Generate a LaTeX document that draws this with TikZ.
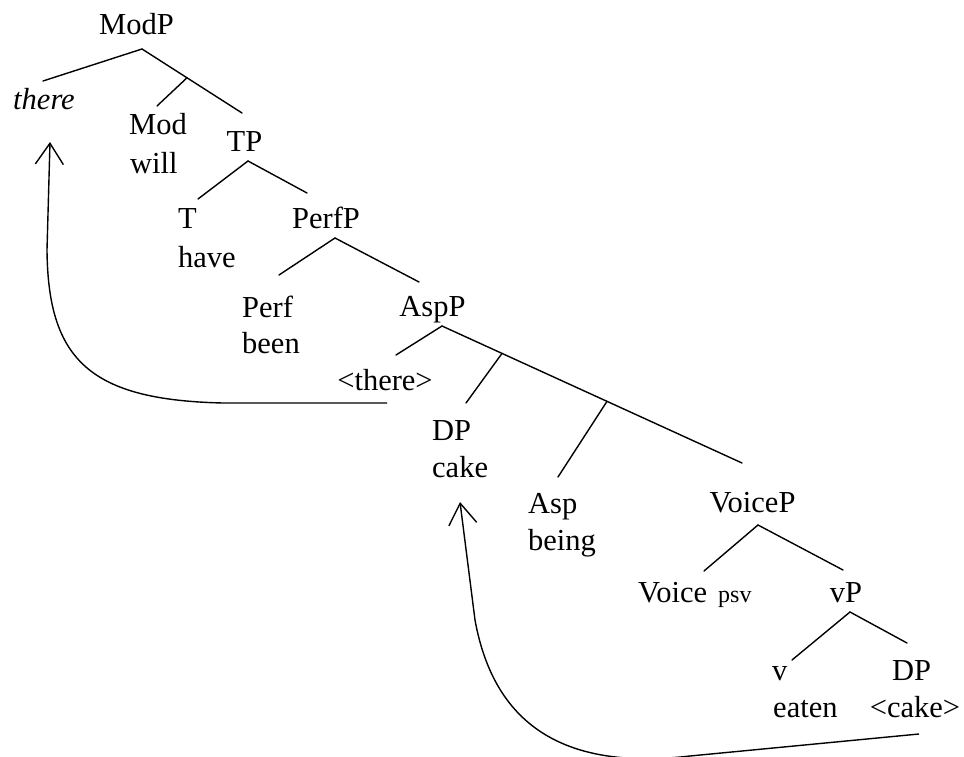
\documentclass[tikz,border=0pt]{standalone}
\usepackage{fontspec}
\setmainfont{Liberation Serif}
\usetikzlibrary{arrows.meta}
\begin{document}
\begin{tikzpicture}[x=1pt,y=-1pt,
  lbl/.style={inner sep=0pt,font=\fontsize{30.5}{36}\selectfont},
  lw/.style={lbl,anchor=base west},
  lc/.style={lbl,anchor=base},
  small/.style={font=\fontsize{24}{28}\selectfont},
  branch/.style={line width=1.4pt,line cap=round},
  move/.style={line width=1.4pt,-{Straight Barb[length=21pt,width=28pt]}}]
\clip (0,0) rectangle (964,757);
\fill[white] (0,0) rectangle (964,757);

% labels
\node[lc] (ModP)   at (136.5,35) {ModP};
\node[lc] (there)  at (44,110)   {\itshape there};
\node[lw] (Mod)    at (129,135)  {Mod};
\node[lw] (will)   at (130,173)  {will};
\node[lc] (TP)     at (244.5,152) {TP};
\node[lw] (T)      at (178,228)  {T};
\node[lw] (have)   at (178,267)  {have};
\node[lc] (PerfP)  at (326,228)  {PerfP};
\node[lw] (Perf)   at (242,317)  {Perf};
\node[lw] (been)   at (242,353)  {been};
\node[lc] (AspP)   at (432.5,316) {AspP};
\node[lc] (trace)  at (385,390)  {<there>};
\node[lw] (DP)     at (432,440)  {DP};
\node[lw] (cake)   at (432,477)  {cake};
\node[lw] (Asp)    at (528,513)  {Asp};
\node[lw] (being)  at (528,550)  {being};
\node[lc] (VoiceP) at (752.5,512) {VoiceP};
\node[lw] (Voice)  at (638,602)  {Voice};
\node[lw,small] (psv) at (718,602) {psv};
\node[lc] (vP)     at (846,602)  {vP};
\node[lw] (v)      at (772,680)  {v};
\node[lw] (eaten)  at (773,717)  {eaten};
\node[lc] (DPb)    at (911.5,680) {DP};
\node[lc] (ctrace) at (915,717)  {<cake>};

% branches
\draw[branch] ([shift={(5.5,14)}]ModP.base) -- ([shift={(-1,-29)}]there.base);
\draw[branch] ([shift={(5.5,14)}]ModP.base) -- coordinate[pos=0.45] (ModBar) ([shift={(-2.5,-39)}]TP.base);
\draw[branch] (ModBar) -- ([shift={(28,-29)}]Mod.base west);

\draw[branch] ([shift={(3.5,9)}]TP.base) -- ([shift={(20,-29)}]T.base west);
\draw[branch] ([shift={(3.5,9)}]TP.base) -- ([shift={(-19,-35)}]PerfP.base);

\draw[branch] ([shift={(9,10)}]PerfP.base) -- ([shift={(37,-42)}]Perf.base west);
\draw[branch] ([shift={(9,10)}]PerfP.base) -- ([shift={(-13.5,-34)}]AspP.base);

\draw[branch] ([shift={(9.5,10)}]AspP.base) -- ([shift={(11,-35)}]trace.base);
\draw[branch] ([shift={(9.5,10)}]AspP.base) -- coordinate[pos=0.2] (AspBarA) coordinate[pos=0.55] (AspBarB) ([shift={(-10.5,-49)}]VoiceP.base);
\draw[branch] (AspBarA) -- ([shift={(34,-37)}]DP.base west);
\draw[branch] (AspBarB) -- ([shift={(30,-36)}]Asp.base west);

\draw[branch] ([shift={(5.5,13)}]VoiceP.base) -- ([shift={(66,-31)}]Voice.base west);
\draw[branch] ([shift={(5.5,13)}]VoiceP.base) -- ([shift={(-3,-32)}]vP.base);

\draw[branch] ([shift={(4,10)}]vP.base) -- ([shift={(20,-20)}]v.base west);
\draw[branch] ([shift={(4,10)}]vP.base) -- ([shift={(-4.5,-37)}]DPb.base);

% movement arrows
\draw[move] ([shift={(2,13)}]trace.base) -- (223,403)
  .. controls (90,400) and (48,360) .. (47,250)
  -- ([shift={(6,32)}]there.base);
\draw[move] ([shift={(4,17)}]ctrace.base) -- (690,756)
  .. controls (570,770) and (495,730) .. (475,620)
  -- ([shift={(28,25)}]cake.base west);
\end{tikzpicture}
\end{document}
